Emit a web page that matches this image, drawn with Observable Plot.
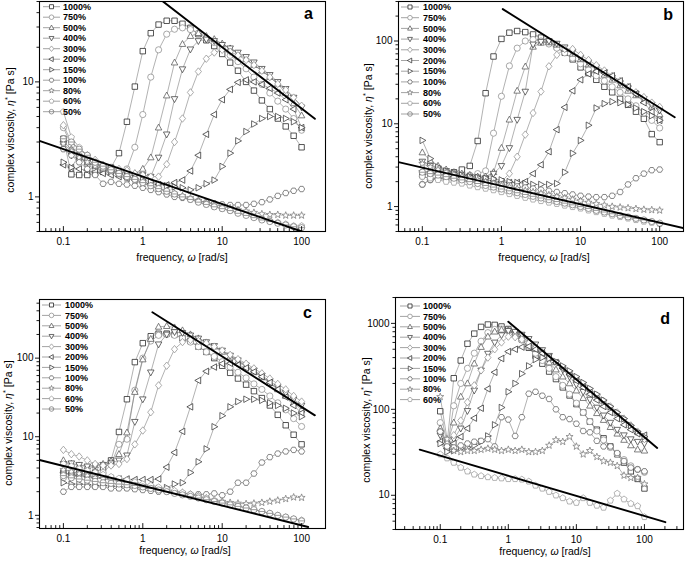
<!DOCTYPE html>
<html>
<head>
<meta charset="utf-8">
<script src="https://cdn.jsdelivr.net/npm/d3@7"></script>
<script src="https://cdn.jsdelivr.net/npm/@observablehq/plot@0.6"></script>
<style>
html,body{margin:0;padding:0;background:#fff;}
#root{position:relative;width:685px;height:563px;overflow:hidden;font-family:"Liberation Sans",Arial,sans-serif;}
.panel{position:absolute;}
.panel svg{display:block;overflow:visible;}
</style>
</head>
<body>
<div id="root"></div>
<script>
// ---------------- data ----------------
const freq = [0.1,0.126,0.158,0.2,0.251,0.316,0.398,0.501,0.631,0.794,1,1.26,1.58,2,2.51,3.16,3.98,5.01,6.31,7.94,10,12.6,15.8,20,25.1,31.6,39.8,50.1,63.1,79.4,100];
const strains = ["1000%","750%","500%","400%","300%","200%","150%","100%","80%","60%","50%"];

// panel a
const a1000 = [3.2,1.57,1.55,1.55,1.6,1.65,1.8,2.4,4.5,9.1,18.5,26.5,31.5,34,34,32,29.5,26,23,20.5,17.5,14.7,12.5,10,8.4,6.9,5.8,4.8,4.1,3.4,2.7];
const a750  = [4.0,2.8,2.3,1.9,1.75,1.7,1.65,1.6,1.75,2.7,5.2,11,19,26,28.7,29.5,28.5,26.5,24,22,19.5,17,15,13,11,9.5,8,6.8,5.8,4.8,3.8];
const a500  = [3.0,2.6,2.2,2.0,1.85,1.75,1.7,1.65,1.6,1.6,1.75,2.2,4.0,7.6,14.7,21.3,25,26.5,25,23.5,21.5,19.5,17.5,15.8,14,12.5,11,9.6,8,6.5,5.1];
const a400  = [2.9,2.3,2.1,2.0,1.9,1.8,1.7,1.65,1.6,1.55,1.55,1.5,2.2,3.5,7.1,12.9,19.2,22.7,23.4,22.7,21,19.6,18,16.5,14.8,13,11.5,10,8.7,7.3,6.0];
const a300  = [4.2,3.0,2.6,2.3,2.1,1.9,1.8,1.75,1.7,1.6,1.55,1.5,1.5,1.92,3.0,4.8,8.1,12.3,15.9,18,19,18.3,17,15.5,14,12.5,11,9.6,8.5,7.3,6.2];
const a200  = [1.9,1.8,1.75,1.7,1.65,1.6,1.55,1.5,1.45,1.4,1.35,1.3,1.28,1.27,1.33,1.4,1.68,2.3,3.5,5.2,7.0,8.6,9.9,10.4,10,9.5,8.8,8,7,5.8,4.0];
const a150  = [2.0,1.8,2.3,2.1,1.9,1.8,1.7,1.6,1.5,1.45,1.4,1.35,1.3,1.25,1.22,1.2,1.15,1.2,1.3,1.4,1.84,2.4,3.07,3.7,4.3,4.8,5.0,5.0,4.8,4.5,4.0];
const a100  = [2.6,2.3,2.0,1.75,1.55,1.3,1.35,1.3,1.28,1.25,1.2,1.15,1.1,1.05,1.0,0.98,0.95,0.92,0.9,0.88,0.86,0.85,0.85,0.85,0.87,0.9,0.95,1.02,1.08,1.13,1.17];
const a80   = [2.9,2.5,2.2,2.0,1.85,1.75,1.65,1.55,1.45,1.38,1.3,1.25,1.18,1.12,1.07,1.02,0.98,0.93,0.89,0.86,0.82,0.8,0.77,0.75,0.73,0.71,0.7,0.7,0.69,0.69,0.69];
const a60   = [5.5,3.3,2.7,2.3,2.0,1.8,1.7,1.6,1.5,1.42,1.33,1.25,1.18,1.12,1.06,1.0,0.95,0.9,0.86,0.82,0.79,0.76,0.73,0.7,0.67,0.64,0.62,0.6,0.58,0.56,0.56];
const a50   = [3.2,3.0,2.6,2.3,2.0,1.85,1.72,1.6,1.5,1.42,1.33,1.25,1.18,1.12,1.06,1.0,0.95,0.9,0.86,0.82,0.79,0.76,0.72,0.69,0.66,0.63,0.61,0.59,0.57,0.55,0.54];
const aUpper = [[1.76,50.6],[147,4.77]];
const aLower = [[0.05,3.07],[100,0.5]];

// panel b
const b1000 = [2.4,2.5,2.6,2.6,2.6,2.8,3.1,6.2,23.4,65,106,126,132,128,120,110,98,85,72,60,48,41,34,28,24,20,17,14,11.5,7.5,6.0];
const b750  = [1.85,2.1,2.2,2.25,2.3,2.35,2.4,2.5,2.7,7.7,21.5,50,82,100,104,100,92,82,72,62,53,45,38,33,28,24,20,16.5,13.5,11,8.9];
const b500  = [4.5,3.6,3.1,2.8,2.6,2.5,2.4,2.3,2.3,2.6,5.1,11.2,25,49,85,95,96,90,80,70,60,52,45,39,34,29,25,22,19,16,13];
const b400  = [3.5,3.1,2.9,2.7,2.5,2.4,2.3,2.25,2.2,2.5,3.1,5.1,11.2,24.5,91,98,100,93,84,74,63,55,48,42,36,31,27,23,20,17,14.5];
const b300  = [2.3,2.2,2.2,2.1,2.1,2.0,2.0,1.95,1.9,1.9,2.0,2.5,4.0,7.4,13.5,24.5,49.5,68,80,80,68,59,51,44,38,33,28,24,21,18,16];
const b200  = [2.7,2.6,2.5,2.4,2.3,2.25,2.2,2.15,2.1,2.05,2.0,1.95,1.95,2.0,2.5,3.2,4.6,8.5,15.8,25,34,40,43,41,38,33,28,23,18,14,11];
const b150  = [6.3,3.8,3.0,2.7,2.5,2.4,2.3,2.25,2.2,2.15,2.1,2.0,1.95,1.9,1.85,1.85,1.85,1.9,2.6,4.4,6.3,9.6,15.5,17.5,18.5,18,17,15.5,14,12.5,11];
const b100  = [1.85,2.1,2.2,2.2,2.15,2.1,2.05,2.0,1.95,1.9,1.85,1.8,1.75,1.7,1.65,1.6,1.55,1.5,1.45,1.4,1.35,1.32,1.3,1.3,1.35,1.5,1.85,2.2,2.5,2.75,2.8];
const b80   = [3.3,3.0,2.8,2.6,2.45,2.3,2.2,2.1,2.0,1.9,1.8,1.72,1.64,1.56,1.5,1.44,1.38,1.32,1.27,1.22,1.17,1.12,1.08,1.04,1.0,0.98,0.96,0.94,0.92,0.91,0.9];
const b60   = [2.3,2.2,2.1,2.0,1.95,1.9,1.8,1.72,1.65,1.58,1.5,1.42,1.35,1.28,1.22,1.17,1.12,1.08,1.03,0.99,0.95,0.9,0.86,0.82,0.78,0.75,0.72,0.69,0.66,0.64,0.62];
const b50   = [2.6,2.5,2.4,2.3,2.2,2.1,2.0,1.9,1.8,1.72,1.63,1.55,1.47,1.4,1.33,1.27,1.21,1.15,1.1,1.05,1.0,0.95,0.9,0.86,0.82,0.78,0.75,0.72,0.69,0.66,0.63];
const bUpper = [[1.04,243],[155,12]];
const bLower = [[0.05,3.45],[200,0.55]];

// panel c
const c1000 = [3.5,3.3,3.4,3.4,3.5,4.0,5.0,11.5,30,89,155,190,204,205,200,180,165,140,120,100,80,65,55,46,38,31,25,19,14,10.6,8];
const c750  = [3.0,3.1,3.2,3.2,3.3,3.5,4.4,8,9.3,39,100,165,195,200,195,180,160,140,120,105,90,77,66,56,47,40,33,27,22,17,13.5];
const c500  = [5.0,4.5,4.3,4.2,4.3,4.5,4.9,6.0,11.3,37,96,175,250,255,245,225,200,178,158,140,120,104,90,78,67,57,48,40,33,27,22];
const c400  = [4.5,4.6,4.4,4.2,4.3,4.4,4.6,5.0,5.8,15.5,30,66,150,200,215,210,195,178,160,143,125,108,94,81,70,60,51,43,36,30,25];
const c300  = [6.8,6.0,5.6,5.0,4.5,4.3,4.3,4.5,5.2,8,12,20.5,45,80,130,160,170,165,155,140,125,110,97,85,74,64,55,47,40,33,28];
const c200  = [3.5,3.3,3.2,3.1,3.0,3.0,2.95,2.9,2.9,2.85,2.85,2.85,2.9,4.1,6.3,11.7,24,52,68,77,85,86,82,75,67,58,49,40,32,25,20];
const c150  = [2.6,2.5,2.5,2.45,2.4,2.4,2.35,2.3,2.3,2.25,2.2,2.2,2.2,2.25,2.5,2.6,3.5,4.8,7,13.4,18.5,24,28,30,30,29,27,25,23,20,18];
const c100  = [2.0,2.3,2.3,2.3,2.3,2.3,2.2,2.2,2.2,2.15,2.1,2.05,2.0,2.0,1.95,1.9,1.85,1.85,1.85,1.9,1.8,2.0,2.6,2.6,3.4,4.7,5.5,6.1,6.5,6.8,6.5];
const c80   = [3.8,3.6,3.4,3.2,3.0,2.9,2.8,2.7,2.6,2.5,2.4,2.3,2.2,2.1,2.0,1.95,1.85,1.75,1.65,1.55,1.5,1.45,1.42,1.4,1.42,1.45,1.5,1.55,1.62,1.7,1.68];
const c60   = [4.5,4.2,3.9,3.7,3.5,3.3,3.1,2.95,2.8,2.65,2.5,2.4,2.28,2.15,2.05,1.95,1.85,1.75,1.65,1.55,1.47,1.4,1.32,1.25,1.18,1.12,1.06,1.0,0.95,0.9,0.87];
const c50   = [3.2,3.0,2.9,2.8,2.7,2.6,2.55,2.5,2.45,2.4,2.3,2.2,2.1,2.0,1.9,1.82,1.74,1.66,1.58,1.5,1.43,1.36,1.3,1.24,1.18,1.12,1.06,1.0,0.95,0.9,0.85];
const cUpper = [[1.32,384],[147,18.7]];
const cLower = [[0.05,5.06],[121,0.71]];

// panel d
const d1000 = [95,40,230,370,580,760,910,970,960,920,860,760,650,520,420,340,275,225,180,145,115,92,72,58,46,37,30,24,19,15.5,12];
const d750  = [70,35,110,200,300,450,620,780,850,860,820,740,640,540,450,370,300,240,190,150,118,92,72,56,44,36,30,26,22,20,18.5];
const d500  = [60,40,70,140,200,340,530,700,800,840,830,780,700,600,500,420,350,290,240,200,165,135,110,90,75,62,52,44,38,34,33];
const d400  = [50,38,45,60,96,166,284,445,600,730,820,800,740,660,570,490,420,350,290,240,195,160,130,105,85,70,58,50,45,42,40];
const d300  = [55,40,50,74,121,190,284,400,500,600,700,690,650,590,520,460,400,345,300,260,225,195,168,145,125,108,92,78,65,55,45];
const d200  = [42,35,40,48,60,79,103,173,270,390,470,500,530,540,500,450,400,350,300,255,215,180,150,128,108,92,78,66,58,52,50];
const d150  = [40,32,33,35,36,38,42,49,66,105,160,200,260,320,380,400,390,360,320,280,240,205,175,150,128,108,92,78,65,55,48];
const d100  = [55,37,36,38,40,42,43,45,37,81,76,49,81,152,160,144,132,100,81,77,68,56,54,43,37,37,31,25,21,20,19];
const d80   = [140,45,33,32,33,33,34,35,34,33,34,33,34,32,32,33,38,44,42,48,37,30,33,28,25,24,22,17,16,16,13.5];
const d60   = [30,27,24,21,19,17.5,16.8,16.3,16,15.8,15.5,15.5,15.3,14.5,13,12,11,10,9.3,8.5,8.2,9.3,8.2,7.6,7.2,8.7,10.5,9,8,7.5,5.6];
const dUpper = [[1,1047],[154,35.5]];
const dLower = [[0.05,34],[203,4.87]];

// ---------------- symbols ----------------
function poly(pts) {
  return {draw(ctx, size) {
    const r = Math.sqrt(size / Math.PI);
    pts.forEach(([x, y], i) => i ? ctx.lineTo(x * r, y * r) : ctx.moveTo(x * r, y * r));
    ctx.closePath();
  }};
}
function ngon(n, rot, k = 1) {
  const p = [];
  for (let i = 0; i < n; i++) { const a = rot + i * 2 * Math.PI / n; p.push([k * Math.cos(a), k * Math.sin(a)]); }
  return p;
}
function starPts() {
  const p = [];
  for (let i = 0; i < 10; i++) { const a = -Math.PI / 2 + i * Math.PI / 5; const k = i % 2 ? 0.5 : 1.2; p.push([k * Math.cos(a), k * Math.sin(a)]); }
  return p;
}
const symCircle = {draw(ctx, size) { const r = Math.sqrt(size / Math.PI); ctx.moveTo(r, 0); ctx.arc(0, 0, r, 0, 2 * Math.PI); }};
const symCircLine = {draw(ctx, size) { const r = Math.sqrt(size / Math.PI); ctx.moveTo(r, 0); ctx.arc(0, 0, r, 0, 2 * Math.PI); ctx.moveTo(-r, 0); ctx.lineTo(r, 0); }};
const symbols = [
  poly([[-0.88,-0.88],[0.88,-0.88],[0.88,0.88],[-0.88,0.88]]), // square
  symCircle,
  poly([[0,-1.15],[1.05,0.75],[-1.05,0.75]]),                  // up
  poly([[0,1.15],[1.05,-0.75],[-1.05,-0.75]]),                 // down
  poly([[0,-1.2],[1,0],[0,1.2],[-1,0]]),                       // diamond
  poly([[-1.15,0],[0.75,-1.05],[0.75,1.05]]),                  // left
  poly([[1.15,0],[-0.75,-1.05],[-0.75,1.05]]),                 // right
  poly(ngon(6, 0, 1.0)),                                       // hexagon
  poly(starPts()),                                             // star
  poly(ngon(5, -Math.PI / 2, 1.05)),                           // pentagon
  symCircLine
];
const colors = ["#1e1e1e","#8c8c8c","#555555","#3c3c3c","#909090","#2e2e2e","#3a3a3a","#606060","#7a7a7a","#9a9a9a","#777777"];

// ---------------- panels ----------------
const panels = [
  {left:0, top:0, width:340, height:280, mL:39, mR:15, mT:1, mB:49, x:[0.05,200], y:[0.5,50],
   series:[a1000,a750,a500,a400,a300,a200,a150,a100,a80,a60,a50], upper:aUpper, lower:aLower,
   letter:"a", lx:313, ly:19, leg:{x0:43, x1:60, tx:63, y0:6.7, dy:10.5}, yt:{x:14, y:130}, xt:{x:182, y:261}},
  {left:340, top:0, width:345, height:280, mL:58, mR:2, mT:1, mB:49, x:[0.05,200], y:[0.5,300],
   series:[b1000,b750,b500,b400,b300,b200,b150,b100,b80,b60,b50], upper:bUpper, lower:bLower,
   letter:"b", lx:333, ly:20, leg:{x0:61, x1:79, tx:83, y0:7, dy:10.7}, yt:{x:32, y:126}, xt:{x:204, y:261}},
  {left:0, top:280, width:340, height:283, mL:39, mR:15, mT:19, mB:35, x:[0.05,200], y:[0.68,557],
   series:[c1000,c750,c500,c400,c300,c200,c150,c100,c80,c60,c50], upper:cUpper, lower:cLower,
   letter:"c", lx:312, ly:38, leg:{x0:42, x1:61, tx:65, y0:25, dy:10.4}, yt:{x:12, y:143}, xt:{x:185, y:274}},
  {left:340, top:280, width:345, height:283, mL:55, mR:2, mT:17, mB:34, x:[0.022,375], y:[4,2000],
   series:[d1000,d750,d500,d400,d300,d200,d150,d100,d80,d60], upper:dUpper, lower:dLower,
   letter:"d", lx:330, ly:44, leg:{x0:60, x1:80, tx:83, y0:26, dy:10.4}, yt:{x:30, y:140}, xt:{x:205, y:275}}
];

function logTicks(lo, hi) {
  const major = [], minor = [];
  for (let e = Math.floor(Math.log10(lo)); e <= Math.ceil(Math.log10(hi)); e++) {
    for (let m = 1; m < 10; m++) {
      const v = +(m * Math.pow(10, e)).toPrecision(3);
      if (v < lo * 0.999 || v > hi * 1.001) continue;
      (m === 1 ? major : minor).push(v);
    }
  }
  return {major, minor};
}
const tickShape = {draw(ctx, l) { ctx.moveTo(0, 0); ctx.lineTo(0, -l); }};
const fmt = d => String(d);
const root = document.getElementById("root");

panels.forEach(p => {
  const xt = logTicks(...p.x), yt = logTicks(...p.y);
  const marks = [];
  p.series.forEach((vals, k) => {
    const rows = freq.map((f, i) => ({f, v: vals[i]}));
    marks.push(Plot.line(rows, {x: "f", y: "v", stroke: "#7d7d7d", strokeWidth: 0.6, clip: true}));
    marks.push(Plot.dot(rows, {x: "f", y: "v", symbol: symbols[k], r: 3.1, stroke: colors[k], fill: "white", strokeWidth: 0.75, clip: true}));
  });
  marks.push(Plot.line(p.upper, {x: d => d[0], y: d => d[1], stroke: "#000", strokeWidth: 1.9, clip: true}));
  marks.push(Plot.line(p.lower, {x: d => d[0], y: d => d[1], stroke: "#000", strokeWidth: 1.9, clip: true}));
  marks.push(Plot.frame({stroke: "#000", strokeWidth: 1.1}));
  marks.push(Plot.vector(xt.minor, {x: d => d, frameAnchor: "bottom", length: 3, anchor: "start", rotate: 0, shape: tickShape, stroke: "#000", strokeWidth: 0.9}));
  marks.push(Plot.vector(xt.major, {x: d => d, frameAnchor: "bottom", length: 5, anchor: "start", rotate: 0, shape: tickShape, stroke: "#000", strokeWidth: 0.9}));
  marks.push(Plot.axisX(xt.major, {tickSize: 0, tickPadding: 6, tickFormat: fmt, label: null, fontSize: 10}));
  marks.push(Plot.axisY(yt.major, {tickSize: 4, tickPadding: 2, tickFormat: fmt, label: null, fontSize: 10, strokeWidth: 0.9}));
  marks.push(Plot.axisY(yt.minor, {tickSize: 2.5, tickFormat: () => "", label: null, strokeWidth: 0.9}));

  const svgEl = Plot.plot({
    width: p.width, height: p.height,
    marginLeft: p.mL, marginRight: p.mR, marginTop: p.mT, marginBottom: p.mB,
    x: {type: "log", domain: p.x},
    y: {type: "log", domain: p.y},
    style: {background: "none", fontFamily: "'Liberation Sans', Arial, sans-serif", fontSize: "10px", color: "#000", overflow: "visible"},
    marks
  });
  const div = document.createElement("div");
  div.className = "panel";
  div.style.left = p.left + "px";
  div.style.top = p.top + "px";
  div.appendChild(svgEl);
  root.appendChild(div);

  const svg = d3.select(svgEl);
  const font = "'Liberation Sans', Arial, sans-serif";
  // legend
  const g = svg.append("g").attr("class", "legend").attr("text-anchor", "start");
  p.series.forEach((vals, k) => {
    const y = p.leg.y0 + k * p.leg.dy;
    g.append("line").attr("x1", p.leg.x0).attr("x2", p.leg.x1).attr("y1", y).attr("y2", y)
      .attr("stroke", "#7d7d7d").attr("stroke-width", 0.7);
    g.append("path").attr("d", d3.symbol(symbols[k], Math.PI * 2.3 * 2.3)())
      .attr("transform", `translate(${(p.leg.x0 + p.leg.x1) / 2},${y})`)
      .attr("fill", "white").attr("stroke", colors[k]).attr("stroke-width", 0.75);
    g.append("text").attr("x", p.leg.tx).attr("y", y).attr("dy", "0.35em").attr("text-anchor", "start")
      .attr("font-family", font).attr("font-size", 9).attr("font-weight", "bold").attr("fill", "#000").text(strains[k]);
  });
  // letter
  svg.append("text").attr("x", p.lx).attr("y", p.ly).attr("text-anchor", "end")
    .attr("font-family", font).attr("font-size", 16).attr("font-weight", "bold").text(p.letter);
  // y title
  const yt2 = svg.append("text").attr("transform", `translate(${p.yt.x},${p.yt.y}) rotate(-90)`)
    .attr("text-anchor", "middle").attr("font-family", font).attr("font-size", 10.5);
  yt2.append("tspan").text("complex viscosity, ");
  yt2.append("tspan").attr("font-style", "italic").text("η");
  yt2.append("tspan").attr("dy", -4).attr("font-size", 7.5).text("*");
  yt2.append("tspan").attr("dy", 4).text(" [Pa s]");
  // x title
  const xt2 = svg.append("text").attr("x", p.xt.x).attr("y", p.xt.y)
    .attr("text-anchor", "middle").attr("font-family", font).attr("font-size", 10.5);
  xt2.append("tspan").text("frequency, ");
  xt2.append("tspan").attr("font-style", "italic").text("ω");
  xt2.append("tspan").text(" [rad/s]");
});
</script>
</body>
</html>
